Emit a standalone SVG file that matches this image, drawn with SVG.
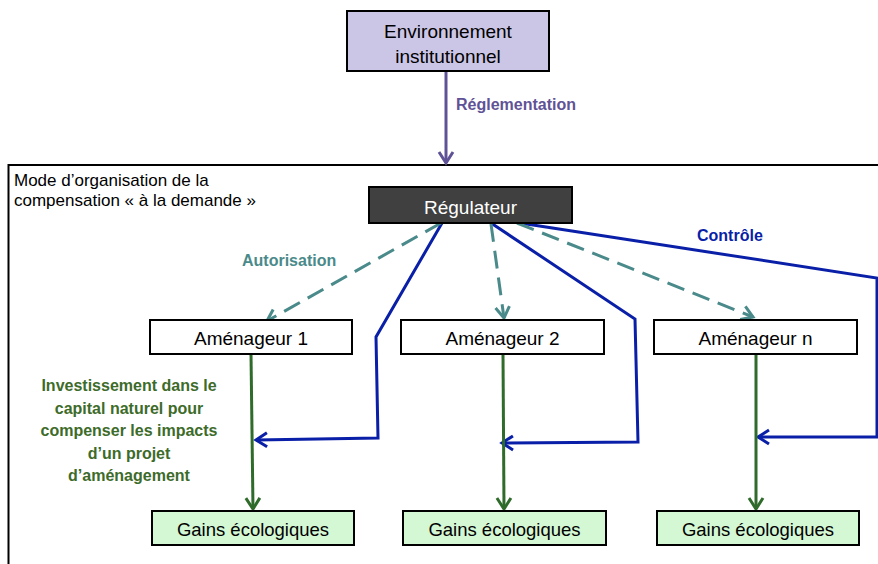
<svg xmlns="http://www.w3.org/2000/svg" width="878" height="564" viewBox="0 0 878 564">
  <style>
    text { font-family: "Liberation Sans", Arial, sans-serif; }
    .box { stroke: #000; stroke-width: 2; }
    .lbl { font-size: 19px; fill: #000; text-anchor: middle; }
    .bold { font-weight: bold; font-size: 16px; }
    .ctrl { fill: none; stroke: #0a1fa8; stroke-width: 3; stroke-linejoin: miter; marker-end: url(#arr-blue); }
    .auth { fill: none; stroke: #4a8a8a; stroke-width: 3; stroke-dasharray: 18 9; marker-end: url(#arr-teal); }
    .inv { fill: none; stroke: #2f6b2a; stroke-width: 3; marker-end: url(#arr-green); }
    .reg { fill: none; stroke: #5f5296; stroke-width: 3; marker-end: url(#arr-purple); }
  </style>
  <defs>
    <marker id="arr-blue" viewBox="-14 -9 17 18" refX="0" refY="0" markerWidth="17" markerHeight="18" markerUnits="userSpaceOnUse" orient="auto">
      <path d="M-11,-7 L0,0 L-11,7" fill="none" stroke="#0a1fa8" stroke-width="3"/>
    </marker>
    <marker id="arr-teal" viewBox="-14 -9 17 18" refX="0" refY="0" markerWidth="17" markerHeight="18" markerUnits="userSpaceOnUse" orient="auto">
      <path d="M-11,-7 L0,0 L-11,7" fill="none" stroke="#4a8a8a" stroke-width="3"/>
    </marker>
    <marker id="arr-green" viewBox="-14 -9 17 18" refX="0" refY="0" markerWidth="17" markerHeight="18" markerUnits="userSpaceOnUse" orient="auto">
      <path d="M-11,-7 L0,0 L-11,7" fill="none" stroke="#2f6b2a" stroke-width="3"/>
    </marker>
    <marker id="arr-purple" viewBox="-14 -9 17 18" refX="0" refY="0" markerWidth="17" markerHeight="18" markerUnits="userSpaceOnUse" orient="auto">
      <path d="M-11,-7 L0,0 L-11,7" fill="none" stroke="#5f5296" stroke-width="3"/>
    </marker>
  </defs>

  <rect width="878" height="564" fill="#fff"/>

  <!-- frame of the organisation mode -->
  <g id="frame">
    <rect x="8.5" y="165" width="900" height="420" fill="none" stroke="#000" stroke-width="2"/>
    <text x="14" y="186" font-size="17">Mode d’organisation de la</text>
    <text x="14" y="206" font-size="17">compensation « à la demande »</text>
  </g>

  <g id="connectors">
    <path class="reg" d="M446,71 L446,163"/>
    <path class="ctrl" d="M442,223 L376,337 L378,438 L256,440"/>
    <path class="ctrl" d="M491,223 L635,319 L638,442 L502,443"/>
    <path class="ctrl" d="M520,223 L877,278 L877,437 L758,437"/>
    <path class="auth" d="M441,223 L267,321"/>
    <path class="auth" d="M491,224 L504,318"/>
    <path class="auth" d="M517,223 L753,317"/>
    <path class="inv" d="M251,354 L253,509"/>
    <path class="inv" d="M503,354 L504,509"/>
    <path class="inv" d="M756,354 L756,509"/>
    <text class="bold" x="456" y="110" fill="#5f5296">Réglementation</text>
    <text class="bold" x="242" y="266" fill="#4a8a8a">Autorisation</text>
    <text class="bold" x="697" y="241" fill="#0a1fa8">Contrôle</text>
    <g class="bold" fill="#3d6b2a" text-anchor="middle">
      <text x="129" y="391">Investissement dans le</text>
      <text x="129" y="413.5">capital naturel pour</text>
      <text x="129" y="436">compenser les impacts</text>
      <text x="129" y="458.5">d’un projet</text>
      <text x="129" y="481">d’aménagement</text>
    </g>
  </g>

  <g id="env">
    <rect class="box" x="347" y="11" width="202" height="60" fill="#ccc6e6"/>
    <text class="lbl" x="448" y="38">Environnement</text>
    <text class="lbl" x="448" y="63">institutionnel</text>
  </g>

  <g id="regulateur">
    <rect class="box" x="369" y="187" width="203" height="36" fill="#404040"/>
    <text class="lbl" x="470.5" y="214" fill="#fff" style="fill:#fff">Régulateur</text>
  </g>

  <g id="amenageur1">
    <rect class="box" x="150" y="320" width="202" height="34" fill="#fff"/>
    <text class="lbl" x="251" y="345">Aménageur 1</text>
  </g>
  <g id="amenageur2">
    <rect class="box" x="401" y="320" width="203" height="34" fill="#fff"/>
    <text class="lbl" x="502.5" y="345">Aménageur 2</text>
  </g>
  <g id="amenageurn">
    <rect class="box" x="654" y="320" width="203" height="34" fill="#fff"/>
    <text class="lbl" x="755.5" y="345">Aménageur n</text>
  </g>

  <g id="gains1">
    <rect class="box" x="152" y="511" width="202" height="34" fill="#d4f7d4"/>
    <text class="lbl" x="253" y="536" font-size="18.5" style="font-size:18.5px">Gains écologiques</text>
  </g>
  <g id="gains2">
    <rect class="box" x="403" y="511" width="203" height="34" fill="#d4f7d4"/>
    <text class="lbl" x="504.5" y="536" style="font-size:18.5px">Gains écologiques</text>
  </g>
  <g id="gains3">
    <rect class="box" x="657" y="511" width="202" height="34" fill="#d4f7d4"/>
    <text class="lbl" x="758" y="536" style="font-size:18.5px">Gains écologiques</text>
  </g>
</svg>
